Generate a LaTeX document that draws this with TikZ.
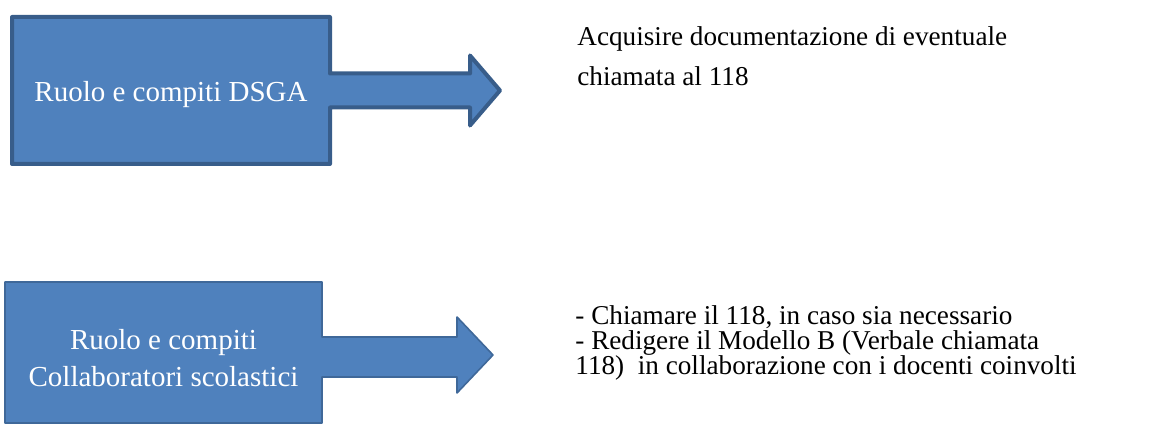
\documentclass[tikz,border=0pt]{standalone}
\usepackage{fontspec}
\setmainfont{Liberation Serif}
\usepackage{tikz}
\usetikzlibrary{calc, positioning, backgrounds}
\definecolor{boxblue}{HTML}{4F81BD}
\definecolor{boxedge}{HTML}{385D8A}

\begin{document}
\begin{tikzpicture}[x=0.5pt, y=-0.5pt,
	rolebox/.style={inner sep=0pt, outer sep=0pt, text=white, align=center, font=\fontsize{14.5}{18.5}\selectfont},
	blockarrow/.style={fill=boxblue, draw=boxedge, line width=2pt, line join=round},
	tasktext/.style={align=left, inner sep=0pt, anchor=base west, font=\fontsize{13.6}{20}\selectfont}]
	\useasboundingbox (0,0) rectangle (1171,426);
	%% the two role boxes
	\node[rolebox, minimum width=159pt, minimum height=73.5pt, text height=14pt] (dsga) at (171,90.5) {Ruolo e compiti DSGA};
	\node[rolebox, minimum width=158.5pt, minimum height=70.5pt, text height=34.5pt] (coll) at (163.5,352.5) {Ruolo e compiti\\Collaboratori scolastici};
	%% the tasks (base is the last line)
	\node[tasktext] (dsgatask) at (577,86) {Acquisire documentazione di eventuale\\chiamata al 118};
	\node[tasktext, font=\fontsize{13.6}{12.5}\selectfont] (colltask) at (575,375) {- Chiamare il 118, in caso sia necessario\\- Redigere il Modello B (Verbale chiamata\\118)~ in collaborazione con i docenti coinvolti};
	\begin{scope}[on background layer]
	\draw[blockarrow] (dsga.north west) -- (dsga.north east) -- ($(dsga.east)+(0,-17)$) -- ($(dsga.east)+(140,-17)$) -- ($(dsga.east)+(140,-35)$) -- ($(dsga.east)+(170,0)$) -- ($(dsga.east)+(140,35)$) -- ($(dsga.east)+(140,17)$) -- ($(dsga.east)+(0,17)$) -- (dsga.south east) -- (dsga.south west) -- cycle;
	\draw[blockarrow, line width=0.8pt, draw=boxedge!70!boxblue] (coll.north west) -- (coll.north east) -- ($(coll.east)+(0,-15.5)$) -- ($(coll.east)+(135,-15.5)$) -- ($(coll.east)+(135,-35.5)$) -- ($(coll.east)+(171,2.5)$) -- ($(coll.east)+(135,40.5)$) -- ($(coll.east)+(135,24.5)$) -- ($(coll.east)+(0,24.5)$) -- (coll.south east) -- (coll.south west) -- cycle;
	\end{scope}
\end{tikzpicture}
\end{document}
